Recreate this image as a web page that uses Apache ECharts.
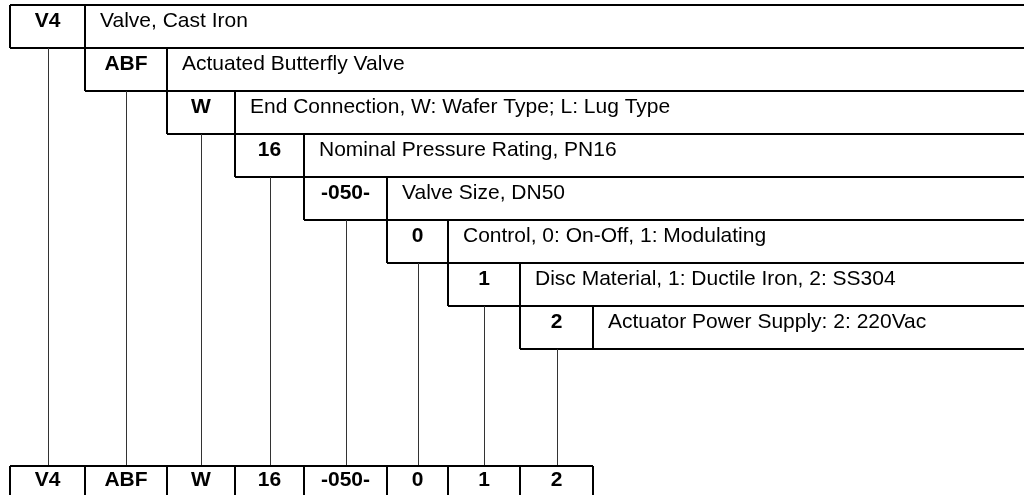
<!DOCTYPE html>
<html>
<head>
<meta charset="utf-8">
<script src="https://cdn.jsdelivr.net/npm/echarts@6/dist/echarts.min.js"></script>
<style>
  html, body { margin: 0; padding: 0; background: #fff; }
  #main { width: 1024px; height: 495px; }
</style>
</head>
<body>
<div id="main"></div>
<script>
// code segments of the part number and what each one means
const codes = ['V4', 'ABF', 'W', '16', '-050-', '0', '1', '2'];
const descriptions = [
  'Valve, Cast Iron',
  'Actuated Butterfly Valve',
  'End Connection, W: Wafer Type; L: Lug Type',
  'Nominal Pressure Rating, PN16',
  'Valve Size, DN50',
  'Control, 0: On-Off, 1: Modulating',
  'Disc Material, 1: Ductile Iron, 2: SS304',
  'Actuator Power Supply: 2: 220Vac'
];

// layout (axis units = pixels)
const colEdges = [10, 85, 167, 235, 304, 387, 448, 520, 593];
const firstRowTop = 5;
const rowStep = 43;
const bottomRowTop = 466;
const rightEdge = 1024;
const FONT = '"Liberation Sans", Arial, sans-serif';

const chart = echarts.init(document.getElementById('main'));

function line(api, x1, y1, x2, y2, width, color) {
  const a = api.coord([x1, y1]);
  const b = api.coord([x2, y2]);
  // odd widths need half pixel offset to stay sharp
  const off = width % 2 ? 0.5 : 0;
  return {
    type: 'line',
    shape: { x1: a[0] + off, y1: a[1], x2: b[0] + off, y2: b[1] },
    style: { stroke: color, lineWidth: width }
  };
}

function label(api, x, y, text, bold, align) {
  const p = api.coord([x, y]);
  return {
    type: 'text',
    x: p[0],
    y: p[1],
    style: {
      text: text,
      fill: '#000',
      font: (bold ? 'bold ' : '') + '21px ' + FONT,
      align: align,
      verticalAlign: 'middle'
    }
  };
}

// stepped rows: code box + description to the right edge
function renderRow(params, api) {
  const i = api.value(0);
  const left = colEdges[i];
  const div = colEdges[i + 1];
  const top = firstRowTop + i * rowStep;
  const bottom = top + rowStep;
  const mid = Math.round((left + div) / 2);
  return {
    type: 'group',
    children: [
      line(api, left, top, rightEdge, top, 2, '#000'),
      line(api, left, bottom, rightEdge, bottom, 2, '#000'),
      line(api, left, top, left, bottom, 2, '#000'),
      line(api, div, top, div, bottom, 2, '#000'),
      // connector down to the summary row
      line(api, mid, bottom, mid, bottomRowTop, 1, '#333'),
      label(api, (left + div) / 2, top + 16, codes[i], true, 'center'),
      label(api, div + 15, top + 16, descriptions[i], false, 'left')
    ]
  };
}

// summary row at the bottom
function renderCell(params, api) {
  const i = api.value(0);
  const left = colEdges[i];
  const right = colEdges[i + 1];
  const kids = [
    line(api, left, bottomRowTop, right, bottomRowTop, 2, '#000'),
    line(api, left, bottomRowTop, left, 500, 2, '#000'),
    label(api, (left + right) / 2, bottomRowTop + 14, codes[i], true, 'center')
  ];
  if (i === codes.length - 1) {
    kids.push(line(api, right, bottomRowTop, right, 500, 2, '#000'));
  }
  return { type: 'group', children: kids };
}

const idx = codes.map((c, i) => [i]);

chart.setOption({
  animation: false,
  backgroundColor: '#fff',
  grid: { left: 0, right: 0, top: 0, bottom: 0 },
  xAxis: { type: 'value', min: 0, max: 1024, show: false },
  yAxis: { type: 'value', min: 0, max: 495, inverse: true, show: false },
  series: [
    { type: 'custom', renderItem: renderRow, data: idx, clip: false },
    { type: 'custom', renderItem: renderCell, data: idx, clip: false }
  ]
});
</script>
</body>
</html>
